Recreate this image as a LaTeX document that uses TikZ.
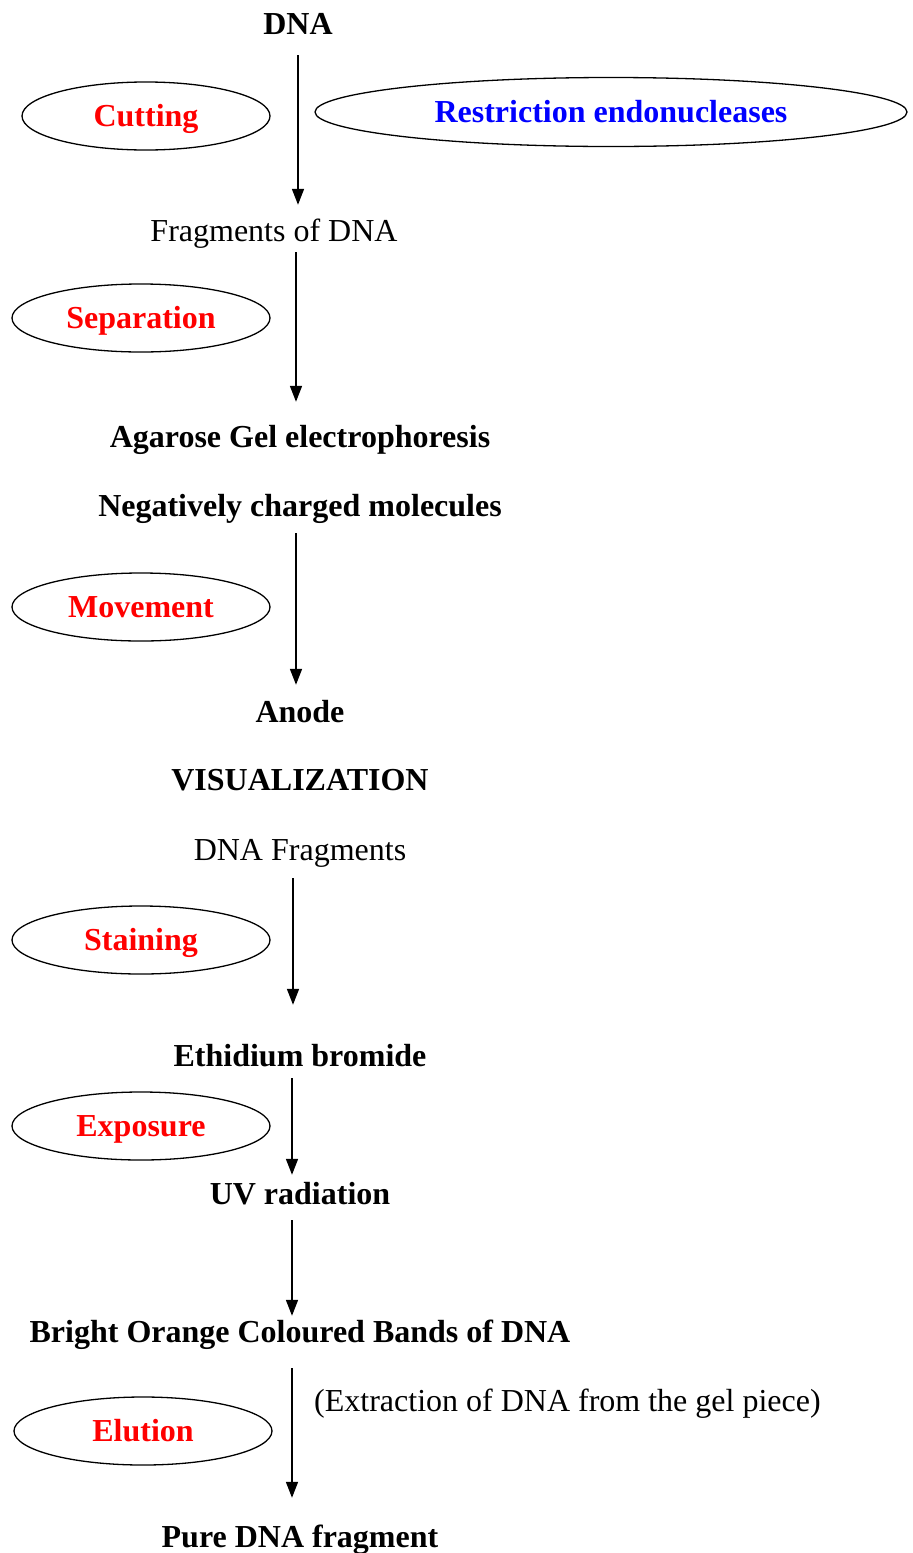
\documentclass[tikz,border=0pt]{standalone}
\usepackage{fontspec}
\setmainfont{Liberation Serif}
\usetikzlibrary{shapes.geometric,arrows.meta}

\tikzset{
  txt/.style={inner sep=0pt, text height=22pt, text depth=7pt, font=\fontsize{32}{36}\selectfont},
  bold/.style={txt, font=\fontsize{32}{36}\selectfont\bfseries},
  oval/.style={draw, ellipse, line width=1.3pt, inner sep=0pt, text height=21pt, text depth=0pt, minimum height=68pt, font=\fontsize{32}{36}\selectfont\bfseries},
  flow/.style={line width=1.6pt, -{Triangle[width=12pt,length=16pt]}}
}

\begin{document}
\begin{tikzpicture}[x=1pt, y=-1pt]
  \useasboundingbox (0,0) rectangle (913,1553);

  % steps
  \node[bold] (dna) at (298,27) {DNA};
  \node[txt] (frag) at (274,234) {Fragments of DNA};
  \node[bold] (gel) at (300,440) {Agarose Gel electrophoresis};
  \node[bold] (neg) at (300,509) {Negatively charged molecules};
  \node[bold] (anode) at (300,715) {Anode};
  \node[bold] (vis) at (300,783) {VISUALIZATION};
  \node[txt] (dnafrag) at (300,853) {DNA Fragments};
  \node[bold] (etbr) at (300,1059) {Ethidium bromide};
  \node[bold] (uv) at (300,1197) {UV radiation};
  \node[bold] (bands) at (300,1335) {Bright Orange Coloured Bands of DNA};
  \node[txt, anchor=west] (extr) at (314,1404) {(Extraction of DNA from the gel piece)};
  \node[bold] (pure) at (300,1540) {Pure DNA fragment};

  % ovals
  \node[oval, minimum width=248pt, text=red] (cut) at (146,116) {Cutting};
  \node[oval, minimum width=592pt, minimum height=69pt, text=blue] (enz) at (611,112) {Restriction endonucleases};
  \node[oval, minimum width=258pt, text=red] (sep) at (141,318) {Separation};
  \node[oval, minimum width=258pt, text=red] (move) at (141,607) {Movement};
  \node[oval, minimum width=258pt, text=red] (stain) at (141,940) {Staining};
  \node[oval, minimum width=258pt, text=red] (expo) at (141,1126) {Exposure};
  \node[oval, minimum width=258pt, text=red] (elu) at (143,1431) {Elution};

  % arrows
  \draw[flow, shorten <=13.5pt, shorten >=14.5pt] (dna.south) -- (dna.south |- frag.north);
  \draw[flow, shorten <=3.5pt, shorten >=23.5pt] (frag.south -| 296,0) -- (gel.north -| 296,0);
  \draw[flow, shorten <=9.5pt, shorten >=15.5pt] (neg.south -| 296,0) -- (anode.north -| 296,0);
  \draw[flow, shorten <=10.5pt, shorten >=39.5pt] (dnafrag.south -| 293,0) -- (etbr.north -| 293,0);
  \draw[flow, shorten <=4.5pt, shorten >=7.5pt] (etbr.south -| 292,0) -- (uv.north -| 292,0);
  \draw[flow, shorten <=8.5pt, shorten >=4.5pt] (uv.south -| 292,0) -- (bands.north -| 292,0);
  \draw[flow, shorten <=18.5pt, shorten >=27.5pt] (bands.south -| 292,0) -- (pure.north -| 292,0);
\end{tikzpicture}
\end{document}
